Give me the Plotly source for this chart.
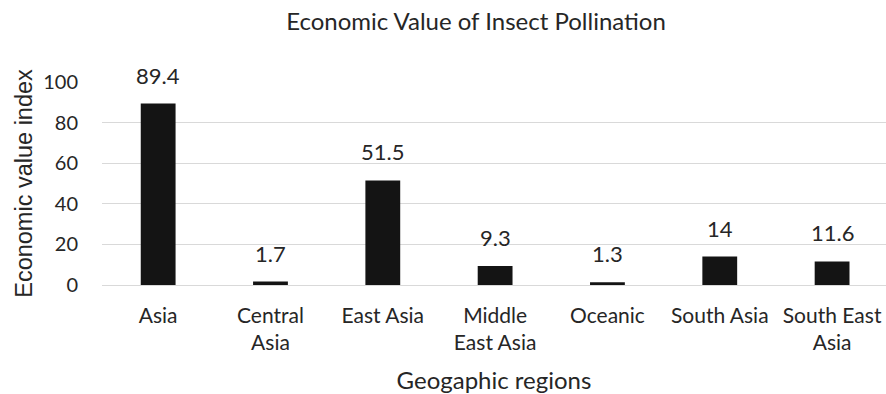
import plotly.graph_objects as go

regions = ["Asia", "Central<br>Asia", "East Asia", "Middle<br>East Asia",
           "Oceanic", "South Asia", "South East<br>Asia"]
values = [89.4, 1.7, 51.5, 9.3, 1.3, 14, 11.6]
value_labels = ["89.4", "1.7", "51.5", "9.3", "1.3", "14", "11.6"]
y_ticks = [0, 20, 40, 60, 80, 100]

FONT = "Lato"
TXT = "#262626"

fig = go.Figure(go.Bar(
    x=regions,
    y=values,
    marker=dict(color="#141414", line=dict(width=0)),
    width=0.31,
    hoverinfo="x+y",
))

# value labels sit a fixed gap above each bar
for reg, val, lab in zip(regions, values, value_labels):
    fig.add_annotation(x=reg, y=val, text=lab, showarrow=False,
                       xanchor="center", yanchor="bottom", yshift=13,
                       font=dict(family=FONT, size=22, color=TXT))

W, H = 886, 394
L, R, T, B = 102, 0, 82, 109

fig.update_layout(
    width=W, height=H,
    margin=dict(l=L, r=R, t=T, b=B, autoexpand=False),
    paper_bgcolor="white", plot_bgcolor="white",
    showlegend=False,
    font=dict(family=FONT, size=21, color=TXT),
    title=dict(text="Economic Value of Insect Pollination",
               x=476 / W, xanchor="center", y=1 - 22 / H, yanchor="middle",
               font=dict(family=FONT, size=24, color=TXT)),
    xaxis=dict(range=[-0.5, 6.48], showgrid=False, showline=False,
               ticks="", tickfont=dict(size=21), ticklabelstandoff=16,
               automargin=False,
               title=dict(text="Geogaphic regions", standoff=18,
                          font=dict(size=24))),
    yaxis=dict(range=[0, 100], tickvals=y_ticks, showgrid=True,
               gridcolor="#d9d9d9", gridwidth=1, zeroline=True,
               zerolinecolor="#d9d9d9", zerolinewidth=1, showline=False,
               ticks="outside", ticklen=19, tickcolor="rgba(0,0,0,0)",
               tickfont=dict(size=20), automargin=False,
               title=dict(text="Economic value index", standoff=3,
                          font=dict(family="Liberation Sans", size=23.5))),
    bargap=0.69,
)

fig.write_html("out.html")
